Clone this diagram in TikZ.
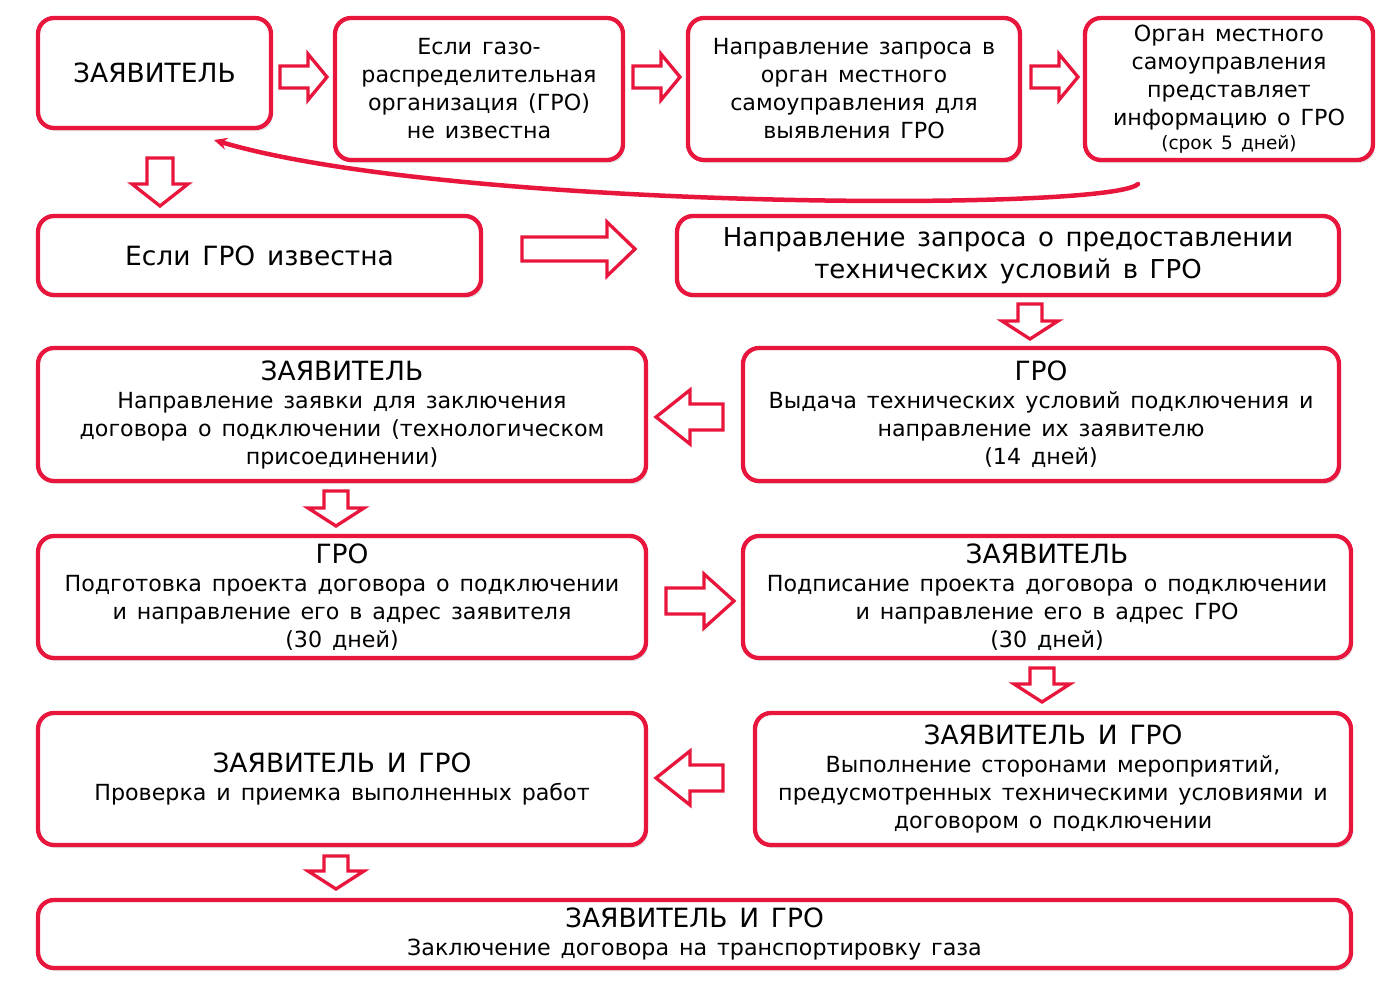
\documentclass[tikz,border=0pt]{standalone}
\usepackage{fontspec}
\setmainfont{DejaVu Sans}[WordSpace=1.4]
\usetikzlibrary{shadows,arrows.meta}
\definecolor{gred}{RGB}{232,22,60}
\tikzset{
  x=1pt,y=-1pt,
  box/.style={draw=gred, line width=4.3pt, rounded corners=16pt, fill=white,
    align=center, inner sep=0pt,
    font=\fontsize{22.2}{28}\selectfont,
    drop shadow={shadow xshift=2pt, shadow yshift=-3pt, opacity=0.35, fill=black!35}},
  barrowline/.style={draw=gred, line width=3.3pt, fill=white, line join=miter},
  pics/barr/.style n args={4}{code={
    \draw[barrowline] (0,-#3) -- (#1-#2,-#3) -- (#1-#2,-#4) -- (#1,0) -- (#1-#2,#4) -- (#1-#2,#3) -- (0,#3) -- cycle;}},
  curvearrow/.style={draw=gred, line width=4.5pt, line cap=round, -{Stealth[length=13pt,width=12pt]}},
}
\newcommand{\hd}[1]{{\fontsize{26.5}{30}\selectfont #1}}
\begin{document}
\begin{tikzpicture}
\useasboundingbox (0,0) rectangle (1398,983);
% boxes
\node[box, minimum width=233, minimum height=110] (b1) at (154.5,73) {\hd{ЗАЯВИТЕЛЬ}};
\node[box, minimum width=288, minimum height=142] (b2) at (479,89) {Если газо-\\распределительная\\организация (ГРО)\\не известна};
\node[box, minimum width=332, minimum height=142] (b3) at (854,89) {Направление запроса в\\орган местного\\самоуправления для\\выявления ГРО};
\node[box, minimum width=288, minimum height=142] (b4) at (1229,89) {Орган местного\\самоуправления\\представляет\\информацию о ГРО\\[-4pt]{\fontsize{18.5}{22}\selectfont (срок 5 дней)}};
\node[box, minimum width=443, minimum height=79] (b5) at (259.5,255.5) {\hd{Если ГРО известна}};
\node[box, minimum width=662, minimum height=79, font=\fontsize{26}{32}\selectfont] (b6) at (1008,255.5) {Направление запроса о предоставлении\\технических условий в ГРО};
\node[box, minimum width=608, minimum height=133] (b7) at (342,414.5) {\hd{ЗАЯВИТЕЛЬ}\\Направление заявки для заключения\\договора о подключении (технологическом\\присоединении)};
\node[box, minimum width=596, minimum height=133] (b8) at (1041,414.5) {\hd{ГРО}\\Выдача технических условий подключения и\\направление их заявителю\\(14 дней)};
\node[box, minimum width=608, minimum height=122] (b9) at (342,597) {\hd{ГРО}\\Подготовка проекта договора о подключении\\и направление его в адрес заявителя\\(30 дней)};
\node[box, minimum width=608, minimum height=122] (b10) at (1047,597) {\hd{ЗАЯВИТЕЛЬ}\\Подписание проекта договора о подключении\\и направление его в адрес ГРО\\(30 дней)};
\node[box, minimum width=608, minimum height=132] (b11) at (342,779) {\hd{ЗАЯВИТЕЛЬ И ГРО}\\Проверка и приемка выполненных работ};
\node[box, minimum width=596, minimum height=132] (b12) at (1053,779) {\hd{ЗАЯВИТЕЛЬ И ГРО}\\Выполнение сторонами мероприятий,\\предусмотренных техническими условиями и\\договором о подключении};
\node[box, minimum width=1313, minimum height=68] (b13) at (694.5,934) {\hd{ЗАЯВИТЕЛЬ И ГРО}\\Заключение договора на транспортировку газа};
% block arrows
\pic at (280,77) {barr={47}{19}{11}{23}};
\pic at (633,77) {barr={47}{19}{11}{23}};
\pic at (1031,77) {barr={47}{19}{11}{23}};
\pic[rotate=-90] at (160,158) {barr={48}{22}{13}{28}};
\pic at (522,249) {barr={113}{28}{12}{27}};
\pic[rotate=-90] at (1030,304) {barr={35}{18}{12}{28}};
\pic[rotate=180] at (723,417) {barr={67}{34}{13}{27}};
\pic[rotate=-90] at (336,491) {barr={35}{18}{12}{28}};
\pic at (666,601) {barr={68}{30}{13}{27}};
\pic[rotate=-90] at (1042,668) {barr={34}{18}{12}{28}};
\pic[rotate=180] at (723,778) {barr={67}{34}{13}{27}};
\pic[rotate=-90] at (336,856) {barr={33}{18}{12}{28}};
% curved return arrow
\coordinate (cs) at (1138,184);
\coordinate (ce) at (214,140);
\draw[curvearrow] (cs) .. controls (1110,212) and (450,210) .. (ce);
\end{tikzpicture}
\end{document}
